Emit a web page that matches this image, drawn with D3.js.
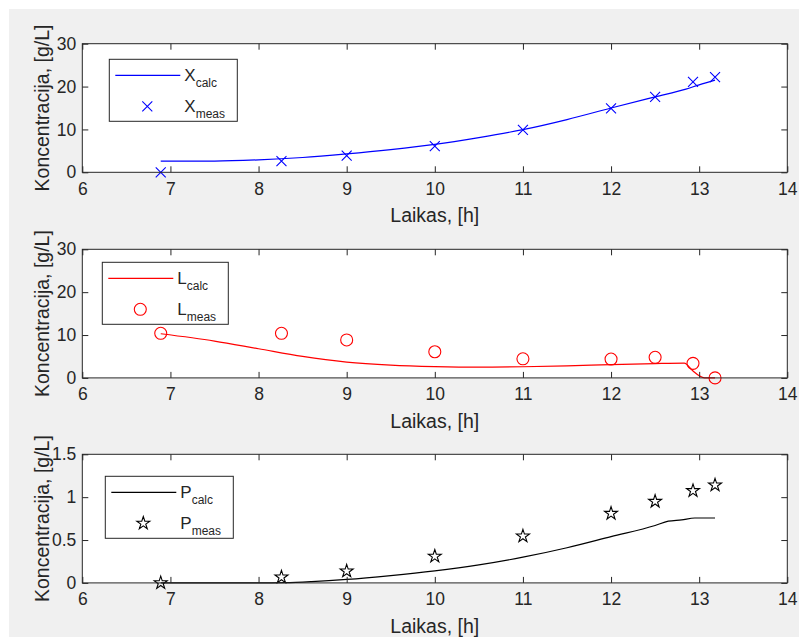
<!doctype html>
<html lang="en">
<head>
  <meta charset="utf-8">
  <title>Koncentracija</title>
  <script src="https://cdn.jsdelivr.net/npm/d3@7"></script>
  <style>
    body { margin: 0; background: #fff; }
    svg { display: block; font-family: "Liberation Sans", Arial, Helvetica, sans-serif; }
  </style>
</head>
<body>
  <div id="chart"></div>
  <script>
    const BLUE = "#0000ff";
    const RED = "#ff0000";
    const BLACK = "#000000";
    const AXIS = "#262626";
    const BG = "#f0f0f0";

    const w = 799;
    const h = 637;

    // Measurement times, [h]
    const TIMES = [6.89, 8.26, 9.0, 10.0, 11.0, 12.0, 12.5, 12.93, 13.18];
    const X_MEAS = [0, 2.6, 3.9, 6.1, 9.9, 14.9, 17.6, 21.1, 22.2];
    const L_MEAS = [10.4, 10.4, 8.85, 6.1, 4.45, 4.4, 4.8, 3.4, 0];
    const P_MEAS = [0, 0.067, 0.137, 0.31, 0.545, 0.81, 0.95, 1.075, 1.14];

    // Model curves
    const X_CALC_T = [6.89, 7.5, 8, 8.5, 9, 9.5, 10, 10.5, 11, 11.5, 12, 12.5, 12.85, 13.0, 13.18];
    const X_CALC = [2.6, 2.62, 2.9, 3.45, 4.3, 5.3, 6.5, 8.1, 9.95, 12.3, 15.0, 17.6, 19.4, 20.4, 21.5];
    const L_CALC_T = [6.89, 7.5, 8, 8.5, 9, 9.5, 10, 10.5, 11, 11.5, 12, 12.5, 12.83, 12.93, 13.0, 13.06, 13.18];
    const L_CALC = [10.3, 8.6, 6.8, 5.0, 3.7, 3.0, 2.65, 2.5, 2.6, 2.8, 3.1, 3.35, 3.45, 1.6, 0.5, 0.0, 0.0];
    const P_CALC_T = [6.89, 8, 8.3, 8.6, 9, 9.5, 10, 10.5, 11, 11.5, 12, 12.5, 12.65, 12.8, 12.95, 13.18];
    const P_CALC = [0, 0, 0.003, 0.015, 0.04, 0.085, 0.14, 0.21, 0.30, 0.41, 0.54, 0.67, 0.72, 0.735, 0.757, 0.757];

    const X_TICKS = [6, 7, 8, 9, 10, 11, 12, 13, 14];
    const Y_TICKS_A = [0, 10, 20, 30];
    const Y_TICKS_B = [0, 0.5, 1, 1.5];

    const X_LABEL = "Laikas, [h]";
    const Y_LABEL = "Koncentracija, [g/L]";

    const panels = [
      { top: 43.7, yMax: 30, yTicks: Y_TICKS_A, color: BLUE, marker: "x", name: "X",
        calcT: X_CALC_T, calc: X_CALC, meas: X_MEAS, legend: [109.3, 59.3, 128] },
      { top: 249.3, yMax: 30, yTicks: Y_TICKS_A, color: RED, marker: "o", name: "L",
        calcT: L_CALC_T, calc: L_CALC, meas: L_MEAS, legend: [102.3, 262.3, 126] },
      { top: 454.3, yMax: 1.5, yTicks: Y_TICKS_B, color: BLACK, marker: "star", name: "P",
        calcT: P_CALC_T, calc: P_CALC, meas: P_MEAS, legend: [105.3, 476.3, 128] }
    ];

    const left = 82.3;
    const right = 787.3;
    const ph = 128.6;
    const tickLen = 6;

    const svg = d3.select("#chart").append("svg")
      .attr("width", w)
      .attr("height", h);

    svg.append("rect")
      .attr("x", 9).attr("y", 9)
      .attr("width", w - 9).attr("height", h - 9)
      .style("fill", BG);

    const xScale = d3.scaleLinear().domain([6, 14]).range([left, right]);

    function markerPath(type) {
      if (type === "x") return "M-5,-5L5,5M-5,5L5,-5";
      if (type === "o") return d3.symbol(d3.symbolCircle, Math.PI * 36)();
      return d3.symbol(d3.symbolStar, 52)();
    }

    function drawMarker(g, type, color, x, y) {
      g.append("path")
        .attr("d", markerPath(type))
        .attr("transform", `translate(${x},${y})`)
        .style("fill", "none")
        .style("stroke", color)
        .style("stroke-width", 1.1);
    }

    function addLabelWithSub(g, x, y, main, sub) {
      const t = g.append("text")
        .attr("x", x).attr("y", y)
        .style("fill", AXIS)
        .style("font-size", "17px");
      t.append("tspan").text(main);
      t.append("tspan").attr("dy", 6).style("font-size", "12px").text(sub);
    }

    panels.forEach(p => {
      const yScale = d3.scaleLinear().domain([0, p.yMax]).range([p.top + ph, p.top]);
      const g = svg.append("g");

      g.append("rect")
        .attr("x", left).attr("y", p.top)
        .attr("width", right - left).attr("height", ph)
        .style("fill", "#fff");

      // data
      const line = d3.line()
        .x(d => xScale(d[0]))
        .y(d => yScale(d[1]))
        .curve(d3.curveMonotoneX);
      g.append("path")
        .datum(p.calcT.map((t, i) => [t, p.calc[i]]))
        .attr("d", line)
        .style("fill", "none")
        .style("stroke", p.color)
        .style("stroke-width", 1.2);

      TIMES.forEach((t, i) => drawMarker(g, p.marker, p.color, xScale(t), yScale(p.meas[i])));

      // axes: bottom/left with labels, top/right ticks only
      const fmt = d3.format("~g");
      const xAxis = d3.axisBottom(xScale).tickValues(X_TICKS).tickSizeInner(-tickLen).tickSizeOuter(0).tickPadding(10).tickFormat(fmt);
      const xAxisTop = d3.axisTop(xScale).tickValues(X_TICKS).tickSizeInner(-tickLen).tickSizeOuter(0).tickFormat("");
      const yAxis = d3.axisLeft(yScale).tickValues(p.yTicks).tickSizeInner(-tickLen).tickSizeOuter(0).tickPadding(6).tickFormat(fmt);
      const yAxisRight = d3.axisRight(yScale).tickValues(p.yTicks).tickSizeInner(-tickLen).tickSizeOuter(0).tickFormat("");

      [[xAxis, `translate(0,${p.top + ph})`], [xAxisTop, `translate(0,${p.top})`],
       [yAxis, `translate(${left},0)`], [yAxisRight, `translate(${right},0)`]].forEach(([ax, tr]) => {
        const a = g.append("g").attr("transform", tr).call(ax);
        a.select(".domain").remove();
        a.selectAll("line").style("stroke", AXIS);
        a.selectAll("text")
          .style("fill", AXIS)
          .style("font-size", "17.5px")
          .style("font-family", "'Liberation Sans', Arial, sans-serif");
      });

      g.append("rect")
        .attr("x", left).attr("y", p.top)
        .attr("width", right - left).attr("height", ph)
        .style("fill", "none")
        .style("stroke", AXIS)
        .style("stroke-width", 1);

      g.append("text")
        .attr("x", (left + right) / 2)
        .attr("y", p.top + ph + 50)
        .style("text-anchor", "middle")
        .style("fill", AXIS)
        .style("font-size", "19.5px")
        .text(X_LABEL);

      const ly = p.top + ph / 2;
      g.append("text")
        .attr("x", 49)
        .attr("y", ly)
        .attr("transform", `rotate(-90, 49, ${ly})`)
        .style("text-anchor", "middle")
        .style("fill", AXIS)
        .style("font-size", "19.5px")
        .text(Y_LABEL);

      // legend
      const [lx, lyTop, lw] = p.legend;
      const lg = g.append("g");
      lg.append("rect")
        .attr("x", lx).attr("y", lyTop)
        .attr("width", lw).attr("height", 62)
        .style("fill", "#fff")
        .style("stroke", AXIS)
        .style("stroke-width", 1);
      lg.append("line")
        .attr("x1", lx + 6).attr("x2", lx + 71)
        .attr("y1", lyTop + 16).attr("y2", lyTop + 16)
        .style("stroke", p.color)
        .style("stroke-width", 1.2);
      drawMarker(lg, p.marker, p.color, lx + 38, lyTop + 47);
      addLabelWithSub(lg, lx + 75, lyTop + 22, p.name, "calc");
      addLabelWithSub(lg, lx + 75, lyTop + 53, p.name, "meas");
    });
  </script>
</body>
</html>
